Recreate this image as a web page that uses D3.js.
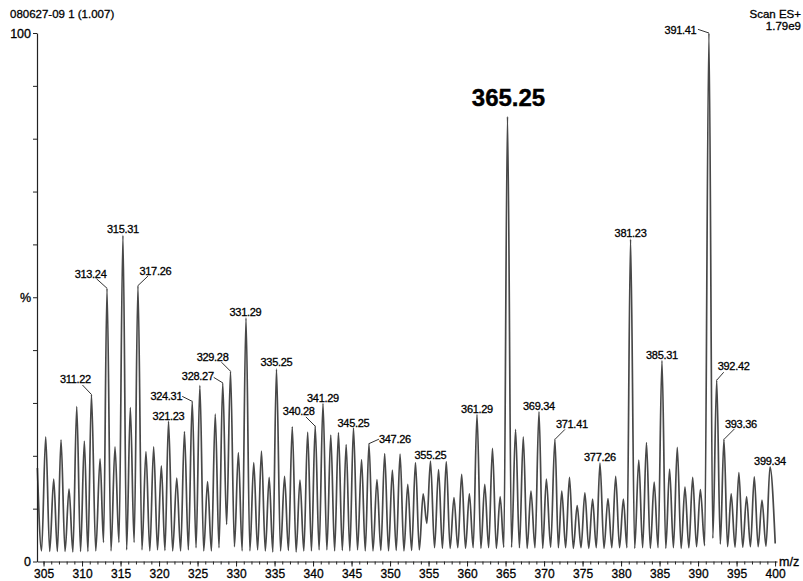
<!DOCTYPE html>
<html>
<head>
<meta charset="utf-8">
<script src="https://cdn.jsdelivr.net/npm/d3@7"></script>
<style>
  html, body { margin: 0; padding: 0; background: #fff; }
  svg { display: block; font-family: "Liberation Sans", Arial, sans-serif; }
  svg text { stroke: #000; stroke-width: 0.3px; }
</style>
</head>
<body>
<svg id="chart" width="803" height="581"></svg>
<script>
// Centroid positions (m/z) of the profile maxima, one per nominal mass
const peakMz = [
  304.20, 305.28, 306.32, 307.27, 308.31, 309.31, 310.30, 311.22, 312.34, 313.24,
  314.28, 315.31, 316.27, 317.26, 318.30, 319.30, 320.30, 321.23, 322.30, 323.30,
  324.31, 325.30, 326.30, 327.30, 328.27, 329.28, 330.30, 331.29, 332.30, 333.30,
  334.30, 335.25, 336.30, 337.30, 338.30, 339.30, 340.28, 341.29, 342.30, 343.30,
  344.30, 345.25, 346.30, 347.26, 348.30, 349.30, 350.30, 351.30, 352.30, 353.30,
  354.30, 355.25, 356.30, 357.30, 358.30, 359.30, 360.30, 361.29, 362.30, 363.30,
  364.30, 365.25, 366.30, 367.30, 368.30, 369.34, 370.30, 371.41, 372.30, 373.30,
  374.30, 375.30, 376.30, 377.26, 378.30, 379.30, 380.30, 381.23, 382.30, 383.30,
  384.30, 385.31, 386.30, 387.30, 388.30, 389.30, 390.30, 391.41, 392.42, 393.36,
  394.30, 395.30, 396.30, 397.30, 398.30, 399.34
];

// Relative intensity (%) at each maximum
const peakPct = [
  17.7, 23.6, 15.6, 23.0, 13.7, 29.3, 22.8, 31.6, 19.4, 51.7,
  21.7, 61.7, 29.1, 52.2, 20.8, 21.7, 18.1, 26.5, 15.8, 24.6,
  30.3, 33.3, 15.1, 27.9, 33.8, 36.0, 20.6, 46.1, 18.7, 20.9,
  15.9, 36.4, 16.1, 25.5, 15.4, 24.5, 25.6, 29.9, 23.9, 24.4,
  22.1, 25.3, 19.3, 22.3, 15.5, 20.4, 17.3, 20.3, 14.6, 18.7,
  12.8, 19.0, 17.4, 18.9, 12.1, 16.5, 12.8, 27.8, 14.6, 21.4,
  12.3, 84.2, 25.0, 23.6, 13.3, 28.3, 15.6, 23.1, 13.3, 15.9,
  10.6, 13.0, 11.8, 18.6, 11.9, 16.1, 11.8, 61.0, 19.2, 22.5,
  15.0, 38.0, 17.5, 21.6, 14.1, 15.9, 13.6, 100.0, 34.3, 23.1,
  12.8, 16.8, 12.3, 16.0, 11.6, 17.9
];

// Relative intensity (%) at the minimum between each pair of neighbouring maxima
const valleyPct = [
  2.0, 1.9, 1.9, 1.9, 1.8, 1.9, 1.9, 2.0, 3.6, 2.0,
  3.6, 2.2, 3.6, 2.2, 2.0, 2.2, 2.1, 2.0, 2.0, 2.2,
  2.6, 2.0, 2.0, 2.6, 7.0, 2.8, 2.0, 2.0, 2.2, 2.0,
  1.8, 2.0, 2.1, 1.8, 2.0, 2.0, 2.2, 2.2, 2.0, 2.1,
  2.0, 2.2, 2.0, 2.0, 2.1, 2.0, 2.1, 2.0, 2.1, 2.2,
  7.2, 2.6, 2.5, 2.5, 2.6, 2.5, 2.6, 2.5, 2.6, 2.5,
  2.7, 2.7, 2.6, 2.5, 2.6, 2.5, 2.7, 2.6, 2.6, 2.5,
  2.6, 2.5, 2.6, 2.5, 2.6, 2.6, 2.6, 2.5, 2.6, 2.5,
  2.6, 2.5, 2.6, 2.5, 2.6, 2.8, 3.0, 4.4, 3.3, 2.8,
  2.7, 2.7, 2.8, 2.8, 2.9
];

// Last recorded point of the scan
const tailMz = 400.02;
const tailPct = 3.4;

// Annotated maxima (m/z as printed above the trace)
const labelMz = [
  311.22, 313.24, 315.31, 317.26, 321.23, 324.31, 328.27, 329.28, 331.29, 335.25,
  340.28, 341.29, 345.25, 347.26, 355.25, 361.29, 365.25, 369.34, 371.41, 377.26,
  381.23, 385.31, 391.41, 392.42, 393.36, 399.34
];
const featuredMz = 365.25;

// Axis ticks
const xMajorTicks = d3.range(305, 401, 5);
const xMinorTicks = d3.range(305, 401, 1);
const yTicks = d3.range(0, 101, 10);
const yTickText = { 0: "0", 50: "%", 100: "100" };

const headerLeft = "080627-09 1 (1.007)";
const headerRight = ["Scan ES+", "1.79e9"];
const xUnit = "m/z";

// ---- layout -------------------------------------------------------------
const svg = d3.select("#chart");
const x = d3.scaleLinear().domain([304.15, 400.25]).range([37, 777]);
const y = d3.scaleLinear().domain([0, 100]).range([561.5, 33]);

// Placement of each annotation relative to its maximum:
// anchor, text offset (tx, ty) and optional leader start (lx, ly)
const labelLayout = {
  311.22: { a: "end",    tx: -0.5, ty: -11.5, lead: [-9, -9.5] },
  313.24: { a: "end",    tx: -0.5, ty: -10,   lead: [-10.5, -9.5] },
  315.31: { a: "middle", tx: 0,    ty: -2 },
  317.26: { a: "start",  tx: 1.5,  ty: -10.5, lead: [10, -9.5] },
  321.23: { a: "middle", tx: 0,    ty: -1.5 },
  324.31: { a: "end",    tx: -10,  ty: -1.5,  lead: [-10, -5] },
  328.27: { a: "end",    tx: -9,   ty: -2.5,  lead: [-9, -5.5] },
  329.28: { a: "end",    tx: -2,   ty: -10.5, lead: [-9, -9] },
  331.29: { a: "middle", tx: -0.5, ty: -2 },
  335.25: { a: "middle", tx: 0,    ty: -3 },
  340.28: { a: "end",    tx: -0.5, ty: -11,   lead: [-9.3, -9.3] },
  341.29: { a: "middle", tx: 0,    ty: -1.5 },
  345.25: { a: "middle", tx: 0,    ty: -1 },
  347.26: { a: "start",  tx: 10,   ty: -1,    lead: [10, -4.5] },
  355.25: { a: "middle", tx: 0,    ty: -2 },
  361.29: { a: "middle", tx: 0,    ty: -2 },
  365.25: { a: "middle", tx: 1,    ty: -11 },
  369.34: { a: "middle", tx: 0,    ty: -2 },
  371.41: { a: "start",  tx: 1,    ty: -11,   lead: [10, -10] },
  377.26: { a: "middle", tx: 0,    ty: -2 },
  381.23: { a: "middle", tx: 0,    ty: -2 },
  385.31: { a: "middle", tx: 0,    ty: -2 },
  391.41: { a: "end",    tx: -12.5, ty: 0.5,  lead: [-11, -3.7] },
  392.42: { a: "start",  tx: 1,    ty: -10,   lead: [7, -8] },
  393.36: { a: "start",  tx: 1,    ty: -11.5, lead: [10.5, -10.5] },
  399.34: { a: "middle", tx: 0,    ty: -2 }
};

// ---- profile trace ------------------------------------------------------
const profile = [];
peakMz.forEach((m, i) => {
  profile.push([m, peakPct[i]]);
  if (i < valleyPct.length) {
    profile.push([(m + peakMz[i + 1]) / 2, valleyPct[i]]);
  }
});
profile.push([tailMz, tailPct]);

const line = d3.line()
  .x(d => x(d[0]))
  .y(d => y(d[1]))
  .curve(d3.curveMonotoneX);

svg.append("path")
  .attr("d", line(profile))
  .attr("fill", "none")
  .attr("stroke", "#484848")
  .attr("stroke-width", 1.7)
  .attr("stroke-linejoin", "round");

// ---- axes ---------------------------------------------------------------
const xAxisMinor = d3.axisBottom(x).tickValues(xMinorTicks).tickSize(3).tickSizeOuter(0).tickFormat("");
const xAxisMajor = d3.axisBottom(x).tickValues(xMajorTicks).tickSize(5).tickSizeOuter(0).tickPadding(3);

const gxMinor = svg.append("g").attr("transform", `translate(0,${y(0)})`).call(xAxisMinor);
const gx = svg.append("g").attr("transform", `translate(0,${y(0)})`).call(xAxisMajor);
gx.select(".domain").remove();
[gxMinor, gx].forEach(g => {
  g.selectAll("line").attr("stroke", "#222").attr("stroke-width", 1);
  g.selectAll(".domain").attr("stroke", "#222").attr("stroke-width", 1.2);
});
gx.selectAll("text")
  .attr("fill", "#000")
  .style("font-size", "12px")
  .style("font-family", "\"Liberation Sans\", Arial, sans-serif");

const yAxis = d3.axisLeft(y).tickValues(yTicks).tickSize(4).tickSizeOuter(0).tickPadding(2)
  .tickFormat(d => yTickText[d] || "");
const gy = svg.append("g").attr("transform", `translate(${x.range()[0]},0)`).call(yAxis);
gy.selectAll("line").attr("stroke", "#222").attr("stroke-width", 1);
gy.select(".domain").attr("stroke", "#222").attr("stroke-width", 1.2);
gy.selectAll("text")
  .attr("fill", "#000")
  .style("font-size", "12.5px")
  .style("font-family", "\"Liberation Sans\", Arial, sans-serif");

svg.append("text")
  .attr("x", 779).attr("y", y(0) + 4)
  .attr("font-size", 12.5)
  .attr("fill", "#000")
  .text(xUnit);

// ---- header -------------------------------------------------------------
svg.append("text")
  .attr("x", 10).attr("y", 17.5)
  .attr("font-size", 11.5)
  .attr("fill", "#000")
  .text(headerLeft);

svg.selectAll("text.hdr")
  .data(headerRight)
  .join("text")
  .attr("class", "hdr")
  .attr("x", 801)
  .attr("y", (d, i) => 17.5 + i * 12)
  .attr("text-anchor", "end")
  .attr("font-size", 11.5)
  .attr("fill", "#000")
  .text(d => d);

// ---- peak annotations ---------------------------------------------------
const apex = m => {
  const i = peakMz.indexOf(m);
  return [x(m), y(peakPct[i])];
};

const gl = svg.append("g");
labelMz.forEach(m => {
  const [px, py] = apex(m);
  const L = labelLayout[m];
  const big = m === featuredMz;
  if (L.lead) {
    gl.append("line")
      .attr("x1", px + L.lead[0]).attr("y1", py + L.lead[1])
      .attr("x2", px).attr("y2", py)
      .attr("stroke", "#333").attr("stroke-width", 1);
  }
  gl.append("text")
    .attr("x", px + L.tx)
    .attr("y", py + L.ty)
    .attr("text-anchor", L.a)
    .attr("font-size", big ? 24 : 11)
    .attr("font-weight", big ? "bold" : "normal")
    .attr("letter-spacing", big ? 0 : -0.3)
    .attr("fill", "#000")
    .style("stroke-width", big ? "0.4px" : "0.3px")
    .text(m.toFixed(2));
});
</script>
</body>
</html>
